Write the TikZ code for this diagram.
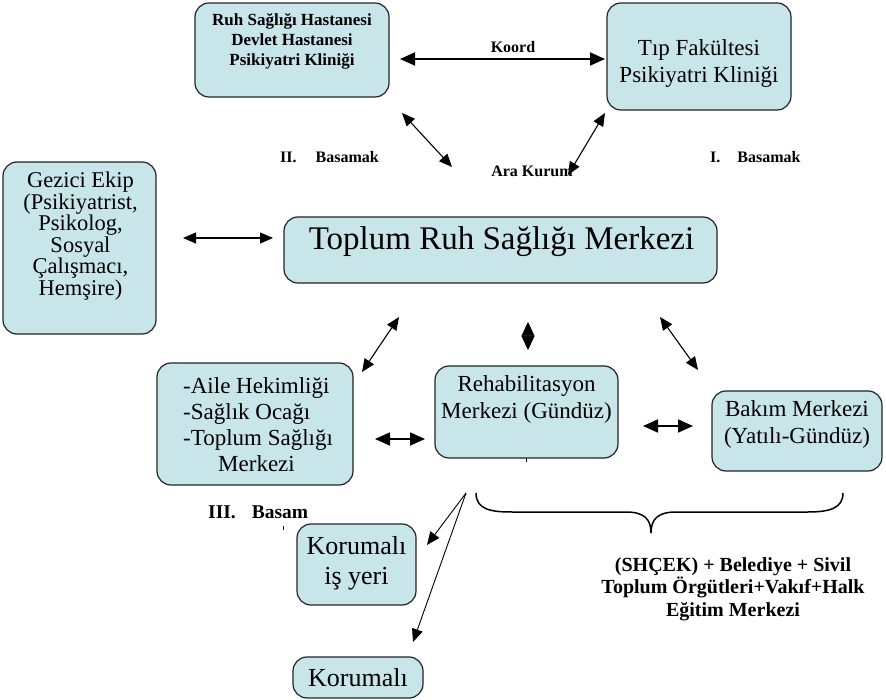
\documentclass[tikz,border=0pt]{standalone}
\usepackage{fontspec}
\setmainfont{Liberation Serif}
\usetikzlibrary{arrows.meta}
\definecolor{boxfill}{RGB}{200,230,234}
\definecolor{boxline}{RGB}{35,35,35}
\newcommand{\fsz}[2]{\fontsize{#1}{#2}\selectfont\lineskiplimit=-100pt\relax}
\begin{document}
\begin{tikzpicture}[x=1pt,y=-1pt,
  box/.style={draw=boxline, line width=1.2pt, fill=boxfill, rounded corners=14pt, inner sep=0pt},
  txt/.style={inner sep=0pt, align=center, text=black},
  lbl/.style={inner sep=0pt, font=\fsz{16}{19}\bfseries},
  biarrow/.style={{Triangle[length=13pt,width=11pt]}-{Triangle[length=13pt,width=11pt]}, line width=1.1pt},
  bigarrow/.style={{Triangle[length=15pt,width=13pt]}-{Triangle[length=15pt,width=13pt]}, line width=1.8pt},
  onearrow/.style={-{Triangle[length=13pt,width=11pt]}, line width=0.9pt}
]
\useasboundingbox (0,0) rectangle (886,700);

% boxes
\node[box, minimum width=194pt, minimum height=94pt] (ruh) at (292,50) {};
\node[txt, font=\fsz{17}{20}\bfseries] (ruhT) at (292,41) {Ruh Sağlığı Hastanesi\\Devlet Hastanesi\\Psikiyatri Kliniği};

\node[box, minimum width=184pt, minimum height=107pt] (tip) at (699,56.5) {};
\node[txt, font=\fsz{23}{27}] (tipT) at (699,64) {Tıp Fakültesi\\Psikiyatri Kliniği};

\node[box, minimum width=153pt, minimum height=172pt] (gez) at (79.5,248) {};
\node[txt, font=\fsz{22.5}{21.5}] (gezT) at (80.5,236) {Gezici Ekip\\(Psikiyatrist,\\Psikolog,\\Sosyal\\Çalışmacı,\\Hemşire)};

\node[box, minimum width=433pt, minimum height=66pt] (top) at (500.5,250) {};
\node[txt, font=\fsz{33}{38}] (topT) at (501.5,242) {Toplum Ruh Sağlığı Merkezi};

\node[box, minimum width=196pt, minimum height=122pt] (aile) at (255,424) {};
\node[txt, align=left, anchor=west, font=\fsz{23}{26}] (aileT) at (183,425) {-Aile Hekimliği\\-Sağlık Ocağı\\-Toplum Sağlığı\\\hspace*{35pt}Merkezi};

\node[box, minimum width=183pt, minimum height=92pt] (reh) at (526.5,412) {};
\node[txt, font=\fsz{23}{27}] (rehT) at (526.5,399) {Rehabilitasyon\\Merkezi (Gündüz)};

\node[box, minimum width=170pt, minimum height=80pt] (bak) at (797,431) {};
\node[txt, font=\fsz{23}{27}] (bakT) at (797,424) {Bakım Merkezi\\(Yatılı-Gündüz)};

\node[box, minimum width=119pt, minimum height=81pt] (kiy) at (356.5,564.5) {};
\node[txt, font=\fsz{26}{30}] (kiyT) at (356.5,563) {Korumalı\\iş yeri};

\node[box, minimum width=130pt, minimum height=41pt] (kor) at (358,677.5) {};
\node[txt, font=\fsz{26}{30}] (korT) at (358,678) {Korumalı};

% labels
\node[lbl, anchor=west] (lII) at (280,157) {II.\hspace{19pt}Basamak};
\node[lbl] (lAra) at (532,171) {Ara Kurum};
\node[lbl, anchor=west] (lI) at (710,157) {I.\hspace{17pt}Basamak};
\node[inner sep=0pt, anchor=west, font=\fsz{19.5}{22}\bfseries] (lIII) at (208,512) {III.\hspace{16pt}Basam};
\node[lbl] (lKoord) at (513,47) {Koord};
\node[txt, font=\fsz{20}{22.5}\bfseries] (lOrg) at (733,589) {(SHÇEK) + Belediye + Sivil\\Toplum Örgütleri+Vakıf+Halk\\Eğitim Merkezi};

% arrow end points
\coordinate (k1) at (400,59);   \coordinate (k2) at (605,59);
\coordinate (a1) at (402,113);  \coordinate (a2) at (452,167);
\coordinate (b1) at (605,113);  \coordinate (b2) at (568,175);
\coordinate (g1) at (183,238);  \coordinate (g2) at (273,238);
\coordinate (c1) at (362,372);  \coordinate (c2) at (399,317);
\coordinate (d0) at (528,336);  \coordinate (d1) at (528,322); \coordinate (d2) at (528,350);
\coordinate (e1) at (660,317);  \coordinate (e2) at (698,370);
\coordinate (f1) at (375,439);  \coordinate (f2) at (425,439);
\coordinate (h1) at (643,426);  \coordinate (h2) at (693,426);
\coordinate (s0) at (466,493);  \coordinate (s1) at (427,545); \coordinate (s2) at (413,642);

\draw[bigarrow] (k1) -- (k2);
\draw[biarrow] (a1) -- (a2);
\draw[biarrow] (b1) -- (b2);
\draw[biarrow] (g1) -- (g2);
\draw[biarrow] (c1) -- (c2);
\draw[-{Triangle[length=14pt,width=13pt]}, line width=0.5pt] (d0) -- (d1);
\draw[-{Triangle[length=14pt,width=13pt]}, line width=0.5pt] (d0) -- (d2);
\draw[biarrow] (e1) -- (e2);
\draw[bigarrow] (f1) -- (f2);
\draw[bigarrow] (h1) -- (h2);
\draw[onearrow] (s0) -- (s1);
\draw[onearrow] (s0) -- (s2);

% brace
\draw[line width=1.5pt] (476,493) .. controls (476,510) and (492,512) .. (512,512)
  -- (626,512) .. controls (644,512) and (651,519) .. (651,533)
  .. controls (651,519) and (658,512) .. (676,512)
  -- (808,512) .. controls (830,512) and (843,508) .. (843,493);

% small ticks
\draw[line width=1pt] (283,526) -- (283,530);
\draw[line width=1pt] (526,458) -- (526,462);
\end{tikzpicture}
\end{document}
